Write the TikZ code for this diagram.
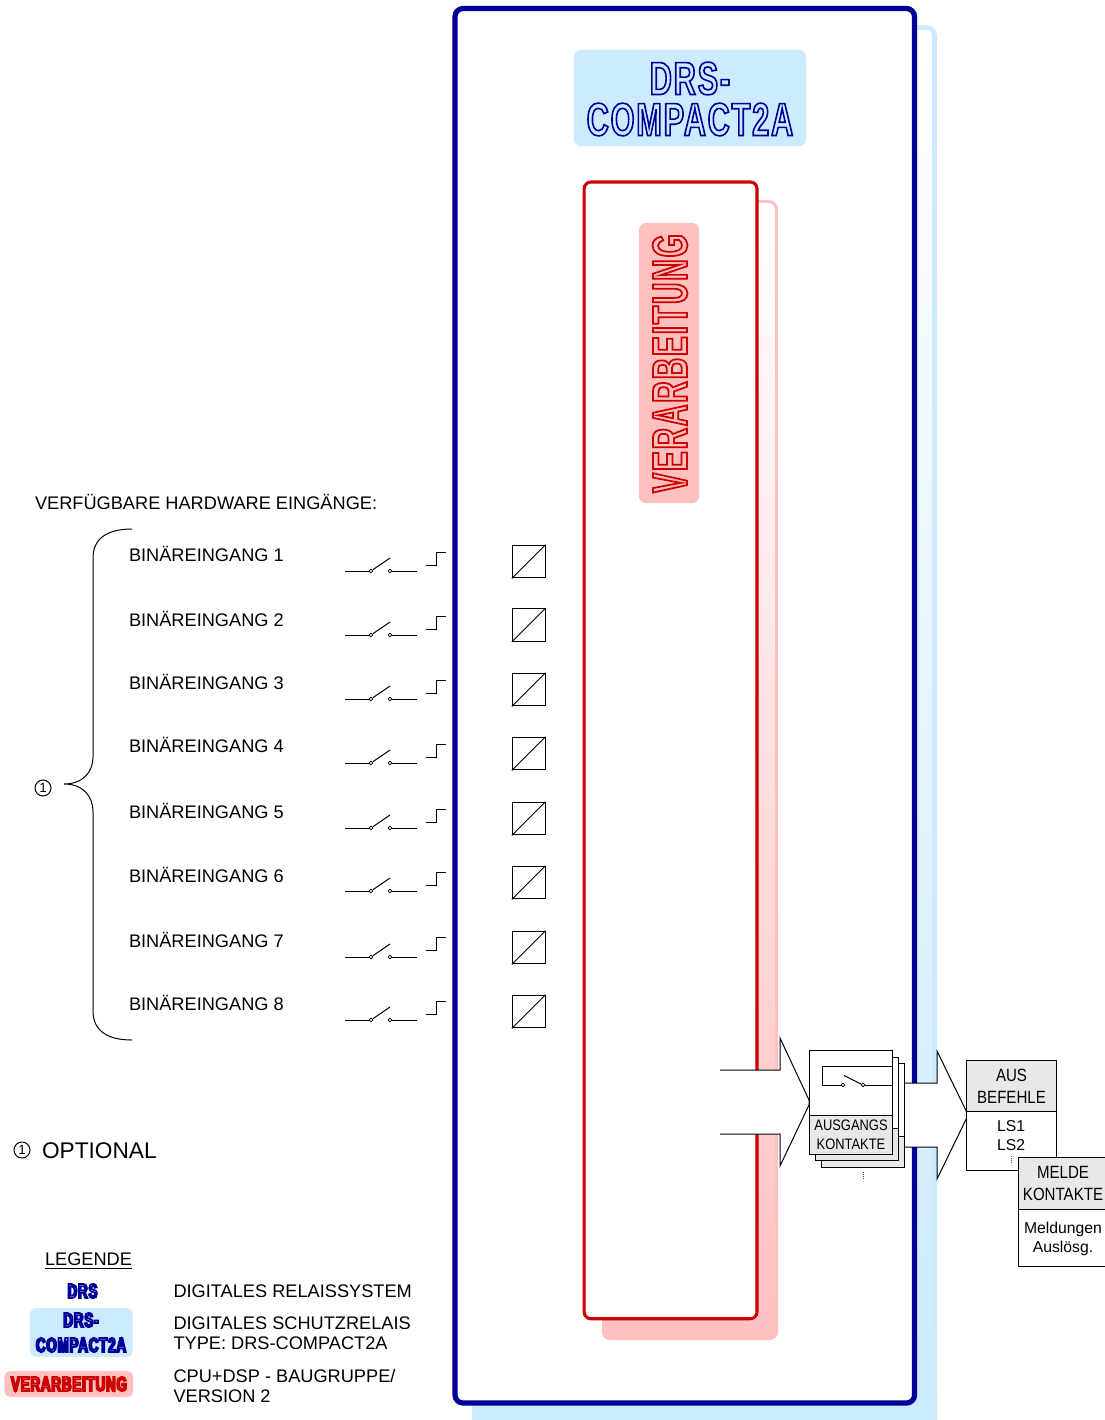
\documentclass[tikz,border=0pt]{standalone}
\usepackage{fontspec}
\setmainfont{Liberation Sans}
\newfontfamily\narrowsf[FakeStretch=0.85]{Liberation Sans}
\newfontfamily\logosf[FakeStretch=0.66,LetterSpace=4]{Liberation Sans Bold}
\newfontfamily\cpusf[FakeStretch=0.6,LetterSpace=4]{Liberation Sans Bold}
\usetikzlibrary{calc}
\definecolor{drsdark}{HTML}{000099}
\definecolor{drslight}{HTML}{CCEBFF}
\definecolor{cpudark}{HTML}{CC0000}
\definecolor{cpulight}{HTML}{FFC0C0}
\definecolor{labelgray}{HTML}{E8E8E8}
\newcommand{\outlinetext}[2]{\special{pdf:code 1 Tr #1 w}#2\special{pdf:code 0 Tr 1 w}}
\newcommand{\optmark}{\fontsize{10}{10}\selectfont 1}
\tikzset{
  plain/.style={line width=0.75pt},
  txt/.style={anchor=base west,inner sep=0pt,font=\fontsize{13.65}{14.3}\selectfont,align=left},
  boxtxt/.style={inner sep=0pt,align=center},
  contact/.style={circle,draw,fill=white,inner sep=0pt,minimum size=2.8pt,line width=0.6pt},
  inbox/.style={draw,plain,inner sep=0pt,minimum size=24.6pt},
  optcircle/.style={circle,draw,plain,inner sep=0pt,minimum size=12pt},
  logobox/.style={rounded corners=5pt,inner sep=0pt},
}
\begin{document}
\begin{tikzpicture}[x=0.75pt,y=-0.75pt,plain]
  \useasboundingbox (0,0) rectangle (1105,1420);
  % device frame
  \shade[rounded corners=6pt,top color=white,bottom color=drslight] (472,25) rectangle (937,1428);
  \draw[drslight,line width=3.5pt,rounded corners=6pt] (934.5,1420) -- (934.5,27.5) -- (474.5,27.5);
  \draw[drsdark,fill=white,line width=3.9pt,rounded corners=6pt] (455,8.5) rectangle (914.5,1403);
  \node[logobox,fill=drslight,minimum width=174pt,minimum height=72pt] (drstitle) at (690,98) {};
  \node[boxtxt,text=drsdark,font=\logosf\fontsize{34.8}{30.75}\selectfont] (drstext) at (690,99)
    {\outlinetext{1.2}{DRS-}\\\outlinetext{1.2}{COMPACT2A}};
  % processing frame
  \shade[rounded corners=6pt,top color=white,bottom color=cpulight] (602,200) rectangle (778,1340);
  \draw[cpulight,line width=2.2pt,rounded corners=6pt] (776.5,1332) -- (776.5,201.5) -- (604,201.5);
  \draw[cpudark,fill=white,line width=2.3pt,rounded corners=5pt] (584.2,182) rectangle (757,1318.7);
  \node[logobox,fill=cpulight,minimum width=45pt,minimum height=210pt] (cputitle) at (669,363) {};
  \node[boxtxt,text=cpudark,rotate=90,font=\cpusf\fontsize{37}{37}\selectfont] (cputext) at (670,363.5)
    {\outlinetext{1.3}{VERARBEITUNG}};
  % binary inputs
  \node[txt] (inputhead) at (34.5,509) {VERFÜGBARE HARDWARE EINGÄNGE:};
  \foreach \i/\ty/\sy/\hy/\by in {1/555/571/552/561.5,2/620/635/616/625,3/683/699/680/689.5,4/746/763/744/753.5,
      5/812/828/809/818.5,6/876/891/872/882.5,7/941/957/937/947.5,8/1004/1020/1001/1011.5}{
    \node[txt] (binlabel\i) at (128.5,\ty+6) {BINÄREINGANG \i};
    \node[contact] (swa\i) at (371,\sy) {};
    \node[contact] (swb\i) at (390,\sy) {};
    \draw (345,\sy) -- (swa\i);
    \draw (swa\i) -- ++(19,-13);
    \draw (swb\i) -- (417,\sy);
    \draw (425.5,\hy+13) -- (436.5,\hy+13) -- (436.5,\hy) -- (446,\hy);
    \node[inbox] (inbox\i) at (528.7,\by) {};
    \draw (inbox\i.south west) -- (inbox\i.north east);
  }
  % brace
  \draw (132,529) .. controls (108,529) and (93,538) .. (93,558) -- (93,757)
    .. controls (93,772) and (83,784) .. (64,784) .. controls (83,784) and (93,796) .. (93,812)
    -- (93,1011) .. controls (93,1031) and (108,1040) .. (132,1040);
  \node[optcircle] (optbrace) at (43,788) {\optmark};
  % optional note
  \node[optcircle] (optnote) at (22,1150) {\optmark};
  \node[txt,font=\fontsize{17}{17}\selectfont] (opttext) at (41.5,1158) {OPTIONAL};
  % arrow into contacts
  \path[fill=white,draw] (720,1070) -- (780,1070) -- (780,1038) -- (809,1100) -- (809,1105)
    -- (780,1166) -- (780,1134) -- (720,1134);
  % arrow out of contacts
  \path[fill=white,draw] (905,1083) -- (937,1083) -- (937,1051) -- (966.7,1112) -- (966.7,1118)
    -- (937,1179) -- (937,1147) -- (905,1147);
  % output contacts
  \draw[fill=white] (821,1063) rectangle (904.3,1136);
  \draw[fill=labelgray] (821,1136) rectangle (904.3,1167);
  \draw[fill=white] (815.5,1057) rectangle (898.7,1128);
  \draw[fill=labelgray] (815.5,1128) rectangle (898.7,1160.5);
  \draw[fill=white] (809,1050.5) rectangle (892.7,1115);
  \draw[fill=labelgray] (809,1115) rectangle (892.7,1154);
  \node[contact] (relaya) at (843,1085) {};
  \node[contact] (relayb) at (863,1085) {};
  \draw (892.7,1066) -- (822.5,1066) -- (822.5,1085) -- (relaya);
  \draw (relayb) -- (844,1075.5);
  \draw (relayb) -- (892.7,1085);
  \node[boxtxt,font=\narrowsf\fontsize{11.4}{14.2}\selectfont] (relaytext) at (851,1134.7) {AUSGANGS\\KONTAKTE};
  \draw[densely dotted,line width=0.5pt,black!70] (863,1172) -- (863,1180);
  % trip commands
  \draw[fill=labelgray] (966.7,1060.7) rectangle (1056.7,1111.7);
  \draw[fill=white] (966.7,1111.7) rectangle (1056.7,1170);
  \node[boxtxt,font=\narrowsf\fontsize{13.3}{16.5}\selectfont] (tripcmd) at (1011.5,1086) {AUS\\BEFEHLE};
  \node[boxtxt,font=\fontsize{11.8}{14.2}\selectfont] (triplist) at (1011,1136) {LS1\\LS2};
  \draw[densely dotted,line width=0.5pt,black!60] (1011,1156) -- (1011,1164);
  % signal contacts
  \draw[fill=labelgray] (1018.5,1157.5) rectangle (1108,1209.5);
  \draw[fill=white] (1018.5,1209.5) rectangle (1108,1266.5);
  \node[boxtxt,font=\narrowsf\fontsize{13.3}{16.5}\selectfont] (signalcmd) at (1063,1183) {MELDE\\KONTAKTE};
  \node[boxtxt,font=\fontsize{11.8}{14.2}\selectfont] (signallist) at (1063,1239) {Meldungen\\Auslösg.};
  % legend
  \node[txt] (legendhead) at (44.5,1265) {LEGENDE};
  \draw (legendhead.south west) ++(0,2.5) -- ($(legendhead.south east)+(0,2.5)$);
  \node[boxtxt,text=drsdark,font=\logosf\fontsize{15.2}{15.2}\selectfont] (legdrs) at (82.5,1291) {\outlinetext{1.3}{DRS}};
  \node[logobox,fill=drslight,rounded corners=4pt,minimum width=77pt,minimum height=36.5pt] (legbox) at (81.4,1332.4) {};
  \node[boxtxt,text=drsdark,font=\logosf\fontsize{15.2}{18.75}\selectfont] (legbrand) at (81,1332.5) {\outlinetext{1.3}{DRS-}\\\outlinetext{1.3}{COMPACT2A}};
  \node[logobox,fill=cpulight,rounded corners=4pt,minimum width=96.5pt,minimum height=19.3pt] (legred) at (68.7,1384) {};
  \node[boxtxt,text=cpudark,font=\logosf\fontsize{15.2}{15.2}\selectfont] (legcpu) at (69,1384) {\outlinetext{1.3}{VERARBEITUNG}};
  \node[txt] (legtexta) at (173,1297) {DIGITALES RELAISSYSTEM};
  \node[txt] (legtextb) at (173,1349) {DIGITALES SCHUTZRELAIS\\TYPE: DRS-COMPACT2A};
  \node[txt] (legtextc) at (173,1402) {CPU+DSP - BAUGRUPPE/\\VERSION 2};
\end{tikzpicture}
\end{document}
